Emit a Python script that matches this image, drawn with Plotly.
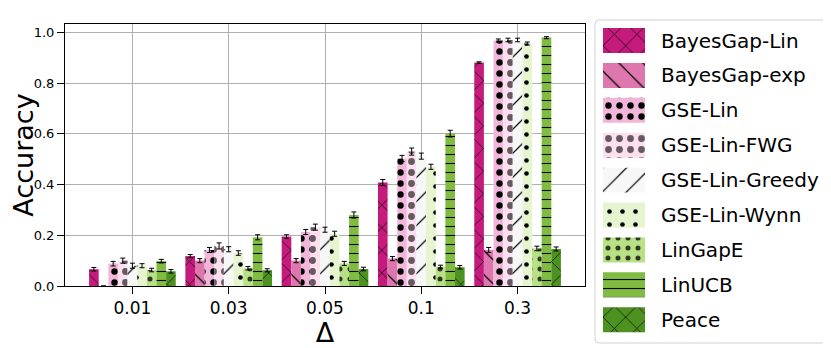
import plotly.graph_objects as go

deltas = ["0.01", "0.03", "0.05", "0.1", "0.3"]

methods = ["BayesGap-Lin", "BayesGap-exp", "GSE-Lin", "GSE-Lin-FWG", "GSE-Lin-Greedy",
           "GSE-Lin-Wynn", "LinGapE", "LinUCB", "Peace"]

bayesgap_lin = [0.066, 0.118, 0.195, 0.408, 0.881]
bayesgap_lin_err = [0.007, 0.006, 0.007, 0.012, 0.003]
bayesgap_exp = [0.0, 0.100, 0.100, 0.108, 0.142]
bayesgap_exp_err = [None, 0.008, 0.008, 0.008, 0.010]
gse_lin = [0.088, 0.142, 0.213, 0.503, 0.968]
gse_lin_err = [0.009, 0.010, 0.010, 0.012, 0.006]
gse_lin_fwg = [0.100, 0.158, 0.232, 0.530, 0.970]
gse_lin_fwg_err = [0.010, 0.012, 0.012, 0.014, 0.007]
gse_lin_greedy = [0.080, 0.145, 0.222, 0.512, 0.970]
gse_lin_greedy_err = [0.010, 0.010, 0.010, 0.012, 0.007]
gse_lin_wynn = [0.080, 0.130, 0.206, 0.470, 0.956]
gse_lin_wynn_err = [0.008, 0.009, 0.010, 0.010, 0.006]
lingape = [0.063, 0.070, 0.089, 0.076, 0.148]
lingape_err = [0.007, 0.007, 0.008, 0.006, 0.009]
linucb = [0.098, 0.192, 0.280, 0.601, 0.979]
linucb_err = [0.007, 0.010, 0.012, 0.013, 0.004]
peace = [0.058, 0.062, 0.067, 0.074, 0.146]
peace_err = [0.007, 0.006, 0.007, 0.007, 0.008]

values = [bayesgap_lin, bayesgap_exp, gse_lin, gse_lin_fwg, gse_lin_greedy,
          gse_lin_wynn, lingape, linucb, peace]
errors = [bayesgap_lin_err, bayesgap_exp_err, gse_lin_err, gse_lin_fwg_err, gse_lin_greedy_err,
          gse_lin_wynn_err, lingape_err, linucb_err, peace_err]

colors = ["#c51b7d", "#de77ae", "#f1b6da", "#fde0ef", "#f7f7f7",
          "#e6f5d0", "#b8e186", "#7fbc41", "#4d9221"]
# (shape, size, solidity, fg opacity)
patterns = [("x", 16, 0.08, 1.0), ("\\", 17, 0.07, 1.0), (".", 11, 0.27, 1.0), (".", 11, 0.3, 0.6),
            ("/", 17, 0.07, 1.0), (".", 13, 0.1, 1.0), (".", 10, 0.2, 0.75), ("-", 9, 0.12, 1.0),
            ("x", 16, 0.08, 1.0)]

FONT = "DejaVu Sans"

# Figure geometry (the page body adds an 8px offset, figure sized to compensate)
W, H = 823, 340
L = 57
PLOT_W = W - L - 1
main_x_dom = [0, 520 / PLOT_W]
main_y_dom = [(H - 278) / H, (H - 16) / H]
key_x_dom = [(595 - L) / PLOT_W, (637 - L) / PLOT_W]
key_y_dom = [(H - 329.2) / H, (H - 15.05) / H]

fig = go.Figure()
for name, vals, errs, col, pat in zip(methods, values, errors, colors, patterns):
    mk = dict(color=col, line=dict(width=0),
              pattern=dict(shape=pat[0], size=pat[1], solidity=pat[2],
                           fgcolor="black", fgopacity=pat[3], fillmode="overlay"))
    fig.add_trace(go.Bar(
        x=deltas, y=vals, name=name, showlegend=False, marker=mk,
        error_y=dict(type="data", array=errs, visible=True, color="black",
                     thickness=1, width=2.5),
        xaxis="x", yaxis="y",
    ))
    # legend key patch
    fig.add_trace(go.Bar(
        y=[name], x=[1], orientation="h", name=name, showlegend=False, marker=mk,
        width=0.716, offset=-0.358, xaxis="x2", yaxis="y2", hoverinfo="name",
    ))

# legend frame (rounded rectangle, paper coords)
x0, x1 = (587 - L) / PLOT_W, (822 - L) / PLOT_W
y0, y1 = (H - 335) / H, (H - 12) / H
rx, ry = 4 / PLOT_W, 4 / H
path = (f"M {x0+rx},{y1} L {x1-rx},{y1} Q {x1},{y1} {x1},{y1-ry} "
        f"L {x1},{y0+ry} Q {x1},{y0} {x1-rx},{y0} L {x0+rx},{y0} "
        f"Q {x0},{y0} {x0},{y0+ry} L {x0},{y1-ry} Q {x0},{y1} {x0+rx},{y1} Z")
fig.add_shape(type="path", path=path, xref="paper", yref="paper",
              line=dict(color="#d0d0d0", width=1), fillcolor="rgba(255,255,255,0)", layer="below")

fig.update_layout(
    width=W, height=H,
    margin=dict(l=L, r=1, t=0, b=0, autoexpand=False),
    paper_bgcolor="white", plot_bgcolor="white",
    font=dict(family=FONT, color="black"),
    barmode="group", bargap=0.1, bargroupgap=0.0,
    showlegend=False,
    xaxis=dict(domain=main_x_dom, anchor="y", type="category", range=[-0.7, 4.7], automargin=False,
               showline=True, linecolor="black", linewidth=1, mirror=True,
               showgrid=True, gridcolor="#b0b0b0", gridwidth=1,
               ticks="outside", ticklen=7, tickcolor="black",
               tickfont=dict(size=17, family=FONT),
               title=dict(text="Δ", font=dict(size=27, family=FONT), standoff=2)),
    yaxis=dict(domain=main_y_dom, anchor="x", range=[0, 1.033], dtick=0.2, tickformat=".1f",
               automargin=False,
               showline=True, linecolor="black", linewidth=1, mirror=True,
               showgrid=True, gridcolor="#b0b0b0", gridwidth=1, zeroline=False,
               ticks="outside", ticklen=7, tickcolor="black",
               tickfont=dict(size=13, family=FONT),
               title=dict(text="Accuracy", font=dict(size=27, family=FONT), standoff=18)),
    xaxis2=dict(domain=key_x_dom, anchor="y2", range=[0, 1], automargin=False,
                showgrid=False, zeroline=False, showline=False, showticklabels=False,
                fixedrange=True),
    yaxis2=dict(domain=key_y_dom, anchor="x2", type="category", categoryorder="array",
                categoryarray=methods, range=[8.5, -0.5], side="right", automargin=False,
                showgrid=False, zeroline=False, showline=False, ticks="",
                ticklabelstandoff=15, tickfont=dict(size=20, family=FONT), fixedrange=True),
)

fig.write_html("out.html")
